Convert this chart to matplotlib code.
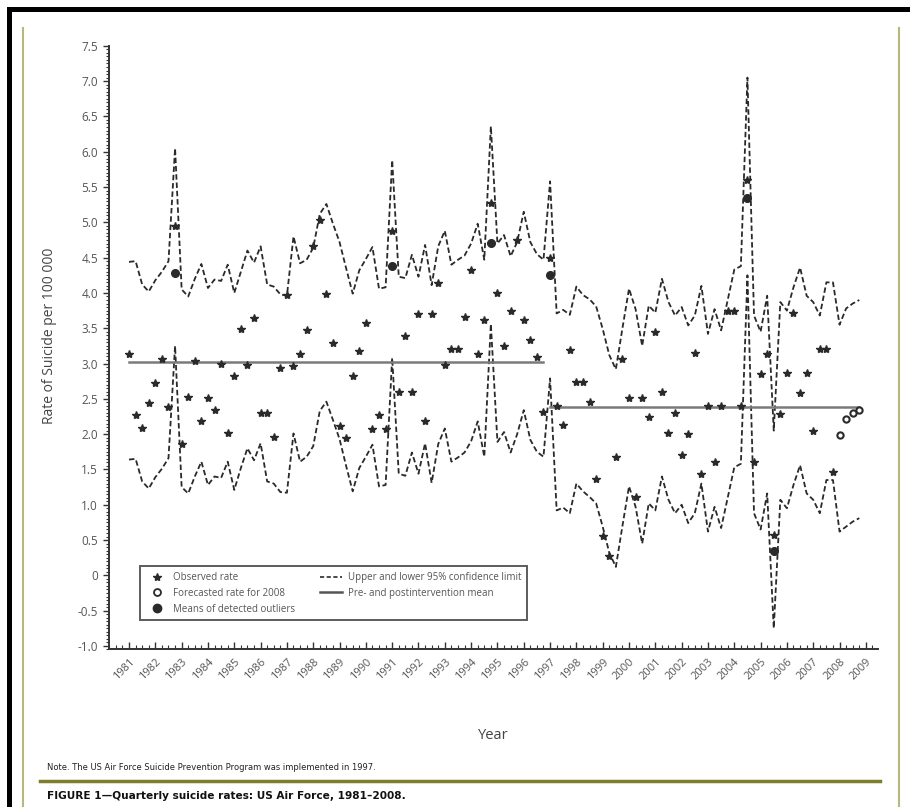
import matplotlib
matplotlib.use("Agg")
import matplotlib.pyplot as plt
from matplotlib.lines import Line2D
from matplotlib.patches import Rectangle
from matplotlib.ticker import MultipleLocator

plt.rcParams['font.family'] = ['Open Sans', 'DejaVu Sans']

# quarterly time axis, 1981 Q1 .. 2008 Q4
quarters = [y + q / 4 for y in range(1981, 2009) for q in range(4)]

# observed quarterly rates 1981 Q1 .. 2007 Q4
observed = [
    3.14, 2.27, 2.09, 2.44, 2.73, 3.06, 2.39, 4.95,
    1.86, 2.53, 3.03, 2.19, 2.51, 2.34, 3.00, 2.01,
    2.82, 3.49, 2.98, 3.64, 2.30, 2.30, 1.96, 2.94,
    3.97, 2.97, 3.14, 3.47, 4.67, 5.03, 3.99, 3.29,
    2.12, 1.94, 2.82, 3.18, 3.57, 2.07, 2.27, 2.07,
    4.88, 2.59, 3.39, 2.59, 3.70, 2.19, 3.70, 4.14,
    2.98, 3.20, 3.20, 3.66, 4.33, 3.13, 3.61, 5.28,
    4.00, 3.25, 3.75, 4.75, 3.61, 3.34, 3.09, 2.32,
    4.50, 2.40, 2.13, 3.19, 2.74, 2.74, 2.46, 1.37,
    0.56, 0.27, 1.68, 3.06, 2.51, 1.11, 2.51, 2.24,
    3.45, 2.59, 2.02, 2.30, 1.71, 2.00, 3.15, 1.43,
    2.40, 1.60, 2.40, 3.74, 3.74, 2.40, 5.60, 1.60,
    2.85, 3.13, 0.57, 2.28, 2.87, 3.72, 2.58, 2.87,
    2.05, 3.20, 3.20, 1.46,
]

# forecasted rates for 2008
forecast = [1.99, 2.21, 2.30, 2.34]

# means of detected outliers
outlier_t = [1982.75, 1991.0, 1994.75, 1997.0, 2004.5, 2005.5]
outlier_v = [4.28, 4.38, 4.71, 4.25, 5.34, 0.34]

upper = [
    4.44, 4.45, 4.12, 4.02, 4.18, 4.30, 4.45, 6.05,
    4.05, 3.95, 4.20, 4.41, 4.07, 4.19, 4.17, 4.40,
    4.00, 4.30, 4.60, 4.43, 4.66, 4.12, 4.09, 3.98,
    3.96, 4.80, 4.42, 4.47, 4.64, 5.12, 5.26, 4.98,
    4.72, 4.35, 3.99, 4.32, 4.48, 4.65, 4.06, 4.08,
    5.88, 4.23, 4.21, 4.54, 4.23, 4.68, 4.11, 4.66,
    4.88, 4.40, 4.47, 4.53, 4.70, 4.98, 4.47, 6.36,
    4.70, 4.82, 4.52, 4.72, 5.15, 4.72, 4.55, 4.47,
    5.58, 3.71, 3.76, 3.69, 4.09, 3.97, 3.91, 3.81,
    3.49, 3.12, 2.92, 3.50, 4.06, 3.77, 3.25, 3.82,
    3.72, 4.20, 3.87, 3.68, 3.80, 3.54, 3.68, 4.10,
    3.42, 3.77, 3.47, 3.90, 4.33, 4.38, 7.05, 3.68,
    3.45, 3.96, 2.05, 3.87, 3.75, 4.08, 4.36, 3.96,
    3.87, 3.68, 4.15, 4.15, 3.55, 3.78, 3.85, 3.90,
]

lower = [
    1.64, 1.65, 1.33, 1.23, 1.39, 1.51, 1.66, 3.25,
    1.25, 1.16, 1.40, 1.61, 1.28, 1.40, 1.38, 1.61,
    1.21, 1.52, 1.80, 1.63, 1.87, 1.33, 1.30, 1.18,
    1.17, 2.01, 1.61, 1.68, 1.83, 2.33, 2.46, 2.20,
    1.93, 1.55, 1.19, 1.52, 1.68, 1.85, 1.26, 1.28,
    3.08, 1.44, 1.41, 1.74, 1.44, 1.87, 1.31, 1.86,
    2.08, 1.61, 1.67, 1.74, 1.90, 2.18, 1.68, 3.56,
    1.89, 2.03, 1.74, 2.00, 2.34, 1.92, 1.75, 1.68,
    2.79, 0.92, 0.96, 0.88, 1.30, 1.19, 1.11, 1.02,
    0.69, 0.32, 0.12, 0.70, 1.26, 0.97, 0.45, 1.02,
    0.92, 1.40, 1.07, 0.88, 1.00, 0.74, 0.88, 1.30,
    0.62, 0.97, 0.67, 1.10, 1.53, 1.58, 4.25, 0.88,
    0.65, 1.16, -0.75, 1.07, 0.95, 1.28, 1.56, 1.16,
    1.07, 0.88, 1.35, 1.35, 0.62, 0.69, 0.76, 0.81,
]

pre_mean = 3.02
post_mean = 2.38
pre_span = [1981.0, 1996.75]
post_span = [1997.0, 2008.75]

years = list(range(1981, 2010))

dash = (0, (3, 1.6))
ink = '#2a2a2a'
grey_txt = '#555555'

fig = plt.figure(figsize=(9.1, 8.07), dpi=100)
ax = fig.add_axes([0.1198, 0.1952, 0.845, 0.748])

ax.plot(quarters, upper, linestyle=dash, color=ink, lw=1.3)
ax.plot(quarters, lower, linestyle=dash, color=ink, lw=1.3)
ax.plot(pre_span, [pre_mean, pre_mean], color='#7a7a7a', lw=1.8)
ax.plot(post_span, [post_mean, post_mean], color='#7a7a7a', lw=1.8)

ax.plot(quarters[:len(observed)], observed, linestyle='none', marker='*',
        ms=6, color=ink)
ax.plot(quarters[len(observed):], forecast, linestyle='none', marker='o',
        ms=4.5, mfc='white', mec=ink, mew=1.5)
ax.plot(outlier_t, outlier_v, linestyle='none', marker='o', ms=5.5, color=ink)

ax.set_xlim(1980.24, 2009.46)
ax.set_ylim(-1.05, 7.5)

ax.spines['top'].set_visible(False)
ax.spines['right'].set_visible(False)
for s in ('left', 'bottom'):
    ax.spines[s].set_color('#333333')
    ax.spines[s].set_linewidth(1.4)

ax.set_yticks([-1.0, -0.5, 0, 0.5, 1.0, 1.5, 2.0, 2.5, 3.0, 3.5, 4.0, 4.5,
               5.0, 5.5, 6.0, 6.5, 7.0, 7.5])
ax.set_yticklabels(['-1.0', '-0.5', '0', '0.5', '1.0', '1.5', '2.0', '2.5',
                    '3.0', '3.5', '4.0', '4.5', '5.0', '5.5', '6.0', '6.5',
                    '7.0', '7.5'])
ax.yaxis.set_minor_locator(MultipleLocator(0.05))
ax.tick_params(axis='y', which='major', direction='out', length=4, width=1,
               color='#333333', labelsize=8.5, labelcolor=grey_txt, pad=4)
ax.tick_params(axis='y', which='minor', direction='out', length=2, width=0.8,
               color='#333333')

ax.set_xticks(years)
ax.set_xticklabels([str(y) for y in years], rotation=45, ha='right',
                   rotation_mode='anchor')
ax.xaxis.set_minor_locator(MultipleLocator(0.25))
ax.tick_params(axis='x', which='major', direction='in', length=5, width=1,
               color='#333333', labelsize=8, labelcolor=grey_txt, pad=5)
ax.tick_params(axis='x', which='minor', direction='in', length=3, width=0.8,
               color='#333333')

ax.set_ylabel('Rate of Suicide per 100 000', fontsize=10, color='#444444')
ax.yaxis.set_label_coords(-0.068, 0.52)
ax.set_xlabel('Year', fontsize=10.5, color='#444444')
ax.xaxis.set_label_coords(0.5, -0.13)

handles = [
    Line2D([], [], linestyle='none', marker='*', ms=6, color=ink),
    Line2D([], [], linestyle='none', marker='o', ms=5, mfc='white', mec=ink,
           mew=1.3),
    Line2D([], [], linestyle='none', marker='o', ms=6, color=ink),
    Line2D([], [], linestyle=(0, (2.5, 1.5)), color=ink, lw=1.2),
    Line2D([], [], color='#555555', lw=1.8),
]
labels = ['Observed rate', 'Forecasted rate for 2008',
          'Means of detected outliers',
          'Upper and lower 95% confidence limit',
          'Pre- and postintervention mean']
leg = ax.legend(handles, labels, ncol=2, loc='lower left',
                bbox_to_anchor=(0.034, 0.04), fontsize=7, frameon=True,
                fancybox=False, edgecolor='#333333', handlelength=2.2,
                handletextpad=0.6, columnspacing=2.6, labelspacing=0.5,
                borderpad=0.6, labelcolor=grey_txt)
leg.get_frame().set_linewidth(1.4)

# page decorations around the figure
fig.text(47 / 910, 1 - 768 / 807,
         'Note. The US Air Force Suicide Prevention Program was implemented in 1997.',
         fontsize=6, color='#222222', va='center',
         family=['Liberation Sans Narrow', 'DejaVu Sans'])
fig.text(47 / 910, 1 - 796 / 807,
         'FIGURE 1\u2014Quarterly suicide rates: US Air Force, 1981\u20132008.',
         fontsize=7.6, fontweight='bold', color='#111111', va='center',
         family=['Liberation Sans Narrow', 'DejaVu Sans'])

fig.add_artist(Line2D([40 / 910, 880 / 910], [1 - 781 / 807, 1 - 781 / 807],
                      transform=fig.transFigure, color='#7d7d2e', lw=2.5))
fig.add_artist(Line2D([23 / 910, 23 / 910], [1 - 28 / 807, 0],
                      transform=fig.transFigure, color='#b8b87c', lw=1.5))
fig.add_artist(Line2D([899 / 910, 899 / 910], [1 - 28 / 807, 0],
                      transform=fig.transFigure, color='#b8b87c', lw=1.5))
fig.add_artist(Rectangle((7 / 910, 1 - 12 / 807), 903 / 910, 5 / 807,
                         transform=fig.transFigure, color='black', lw=0))
fig.add_artist(Rectangle((7 / 910, 0), 5 / 910, 1 - 7 / 807,
                         transform=fig.transFigure, color='black', lw=0))

fig.savefig('out.png', dpi=100)
